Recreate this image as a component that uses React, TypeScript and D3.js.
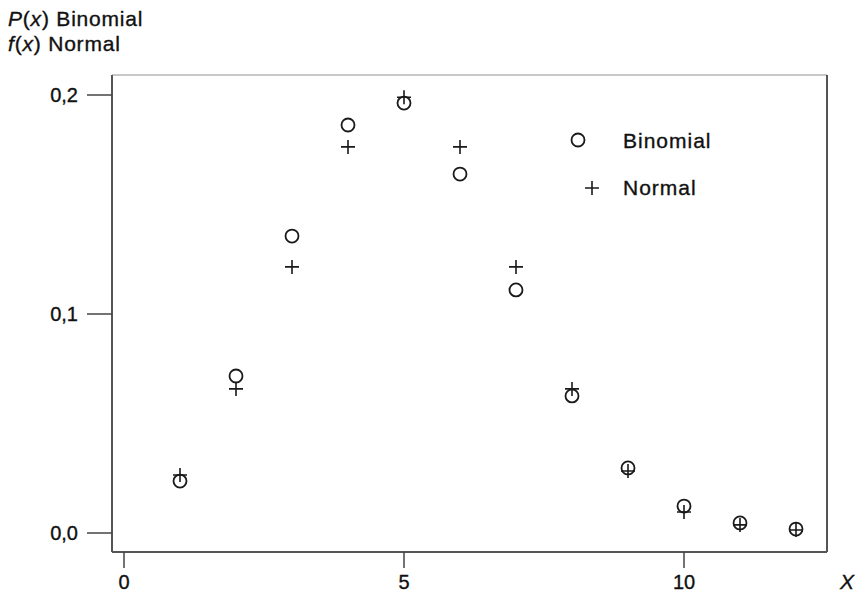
import React from "react";
import * as d3 from "d3";

const xs = [1, 2, 3, 4, 5, 6, 7, 8, 9, 10, 11, 12];
const binomial = [0.0237, 0.0717, 0.1356, 0.1863, 0.1963, 0.1639, 0.111, 0.0626, 0.0297, 0.0123, 0.0046, 0.0018];
const normal = [0.0265, 0.0658, 0.1215, 0.1763, 0.199, 0.1763, 0.1215, 0.0658, 0.0283, 0.0096, 0.0037, 0.0014];
const xTicks = [0, 5, 10];
const yTicks = [0, 0.1, 0.2];
const legendItems = ["Binomial", "Normal"];

const W = 859, H = 595;
const frame = { left: 112, right: 827, top: 75, bottom: 552 };
const FONT = "Liberation Sans, Arial, sans-serif";
const TXT = { fill: "#111", stroke: "#111", strokeWidth: 0.35 };

export default function App() {
  const x = d3.scaleLinear().domain([0, 10]).range([124, 684]);
  const y = d3.scaleLinear().domain([0, 0.2]).range([533, 95]);
  const fmt = (v: number) => d3.format(".1f")(v).replace(".", ",");
  const r = 6.5;
  const p = 7;
  const stroke = "#1a1a1a";
  return (
    <svg width={W} height={H} style={{ position: "absolute", left: 0, top: 0, background: "#fff" }}>
      <text x={8} y={26} fontFamily={FONT} fontSize={21} letterSpacing={0.8} {...TXT}>
        <tspan fontStyle="italic">P</tspan>(<tspan fontStyle="italic">x</tspan>) Binomial
      </text>
      <text x={8} y={51} fontFamily={FONT} fontSize={21} letterSpacing={0.8} {...TXT}>
        <tspan fontStyle="italic">f</tspan>(<tspan fontStyle="italic">x</tspan>) Normal
      </text>
      {/* frame */}
      <line x1={frame.left} x2={frame.right} y1={frame.top} y2={frame.top} stroke="#c8c8c8" strokeWidth={2} />
      <line x1={frame.right} x2={frame.right} y1={frame.top} y2={frame.bottom} stroke="#555" strokeWidth={2} />
      <line x1={frame.left} x2={frame.right} y1={frame.bottom} y2={frame.bottom} stroke="#555" strokeWidth={2} />
      <line x1={frame.left} x2={frame.left} y1={frame.top} y2={frame.bottom} stroke="#555" strokeWidth={2} />
      {xTicks.map((t) => (
        <g key={"xt" + t}>
          <line x1={x(t)} x2={x(t)} y1={frame.bottom} y2={frame.bottom + 16} stroke="#444" strokeWidth={1.5} />
          <text x={x(t)} y={589} textAnchor="middle" fontFamily={FONT} fontSize={20} {...TXT}>{t}</text>
        </g>
      ))}
      {yTicks.map((t) => (
        <g key={"yt" + t}>
          <line x1={87} x2={frame.left} y1={y(t)} y2={y(t)} stroke="#444" strokeWidth={1.5} />
          <text x={78} y={y(t) + 7} textAnchor="end" fontFamily={FONT} fontSize={20} {...TXT}>{fmt(t)}</text>
        </g>
      ))}
      <text x={847} y={589} textAnchor="middle" fontFamily={FONT} fontSize={21} fontStyle="italic" {...TXT}>X</text>
      {xs.map((v, i) => (
        <circle key={"b" + v} cx={x(v)} cy={y(binomial[i])} r={r} fill="none" stroke={stroke} strokeWidth={1.8} />
      ))}
      {xs.map((v, i) => (
        <path key={"n" + v} d={`M${x(v) - p},${y(normal[i])}h${2 * p}M${x(v)},${y(normal[i]) - p}v${2 * p}`} stroke={stroke} strokeWidth={1.6} fill="none" />
      ))}
      {/* legend */}
      <circle cx={578} cy={140} r={r} fill="none" stroke={stroke} strokeWidth={1.8} />
      <text x={623} y={148} fontFamily={FONT} fontSize={21} letterSpacing={1} {...TXT}>{legendItems[0]}</text>
      <path d={`M${592 - p},188h${2 * p}M592,${188 - p}v${2 * p}`} stroke={stroke} strokeWidth={1.6} fill="none" />
      <text x={623} y={195} fontFamily={FONT} fontSize={21} letterSpacing={1} {...TXT}>{legendItems[1]}</text>
    </svg>
  );
}
